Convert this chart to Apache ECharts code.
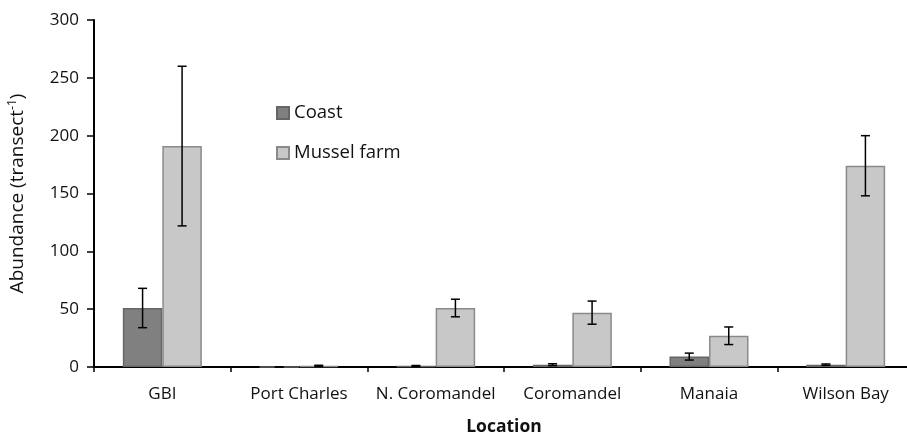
<!DOCTYPE html>
<html>
<head>
<meta charset="utf-8">
<script src="https://cdn.jsdelivr.net/npm/echarts@6/dist/echarts.min.js"></script>
<style>
html,body{margin:0;padding:0;background:#fff;}
#c{width:907px;height:432px;}
</style>
</head>
<body>
<div id="c"></div>
<script>
const categories = ['GBI', 'Port Charles', 'N. Coromandel', 'Coromandel', 'Manaia', 'Wilson Bay'];
const coastValues = [51, 0, 0.8, 2, 9, 2];
const coastErrors = [17, 0, 0.5, 0.8, 3, 0.6];
const musselValues = [191, 1, 51, 47, 27, 174];
const musselErrors = [69, 0.5, 7.6, 10, 7.6, 26];
const yTicks = [0, 50, 100, 150, 200, 250, 300];

const FONT = 'Open Sans';
const BAR_W = 39.5;

function errData(vals, errs) {
  return vals.map((v, i) => [i, v - errs[i], v + errs[i]]);
}
function makeErr(offsetSign) {
  return function (params, api) {
    const i = api.value(0);
    const lo = api.coord([i, api.value(1)]);
    const hi = api.coord([i, api.value(2)]);
    const x = lo[0] + offsetSign * BAR_W / 2;
    const cap = 4.5;
    const st = { stroke: '#000', lineWidth: 1.5 };
    return {
      type: 'group',
      children: [
        { type: 'line', shape: { x1: x, y1: lo[1], x2: x, y2: hi[1] }, style: st },
        { type: 'line', shape: { x1: x - cap, y1: lo[1], x2: x + cap, y2: lo[1] }, style: st },
        { type: 'line', shape: { x1: x - cap, y1: hi[1], x2: x + cap, y2: hi[1] }, style: st }
      ]
    };
  };
}

const chart = echarts.init(document.getElementById('c'), null, { renderer: 'canvas' });
chart.setOption({
  animation: false,
  textStyle: { fontFamily: FONT },
  grid: { left: 94, top: 20, width: 820, height: 347, containLabel: false, outerBoundsMode: 'none' },
  legend: {
    orient: 'vertical',
    left: 271,
    top: 98,
    itemWidth: 12,
    itemHeight: 12,
    itemGap: 20,
    icon: 'rect',
    textStyle: { fontFamily: FONT, fontSize: 18.5, color: '#111', lineHeight: 20, padding: [0, 0, 0, 0] },
    data: ['Coast', 'Mussel farm']
  },
  xAxis: {
    type: 'category',
    data: categories,
    name: 'Location',
    nameLocation: 'middle',
    nameGap: 51,
    nameTextStyle: { fontFamily: FONT, fontSize: 17.5, fontWeight: 'bold', color: '#111' },
    axisLine: { lineStyle: { color: '#000', width: 2 } },
    axisTick: { show: true, length: 5, lineStyle: { color: '#000', width: 1.5 } },
    axisLabel: { interval: 0, fontFamily: FONT, fontSize: 17, color: '#111', margin: 19 }
  },
  yAxis: {
    type: 'value',
    min: yTicks[0],
    max: yTicks[yTicks.length - 1],
    interval: yTicks[1] - yTicks[0],
    name: 'Abundance (transect{sup|-1})',
    nameLocation: 'middle',
    nameGap: 66,
    nameRotate: 90,
    nameTextStyle: {
      fontFamily: FONT, fontSize: 19, color: '#111',
      rich: { sup: { fontFamily: FONT, fontSize: 12, color: '#111', verticalAlign: 'bottom', padding: [0, 0, 9, 0] } }
    },
    axisLine: { show: true, lineStyle: { color: '#000', width: 2 } },
    axisTick: { show: true, length: 7, lineStyle: { color: '#000', width: 1.5 } },
    splitLine: { show: false },
    axisLabel: { fontFamily: FONT, fontSize: 17, color: '#111', margin: 15 }
  },
  series: [
    {
      name: 'Coast', type: 'bar', data: coastValues, barWidth: BAR_W, barGap: '0%',
      itemStyle: { color: '#808080', borderColor: '#666666', borderWidth: 1.5 }
    },
    {
      name: 'Mussel farm', type: 'bar', data: musselValues, barWidth: BAR_W, barGap: '0%',
      itemStyle: { color: '#c8c8c8', borderColor: '#8a8a8a', borderWidth: 1.5 }
    },
    {
      type: 'custom', name: 'Coast err', data: errData(coastValues, coastErrors),
      renderItem: makeErr(-1), z: 10, silent: true
    },
    {
      type: 'custom', name: 'Mussel err', data: errData(musselValues, musselErrors),
      renderItem: makeErr(1), z: 10, silent: true
    }
  ]
});
</script>
</body>
</html>
